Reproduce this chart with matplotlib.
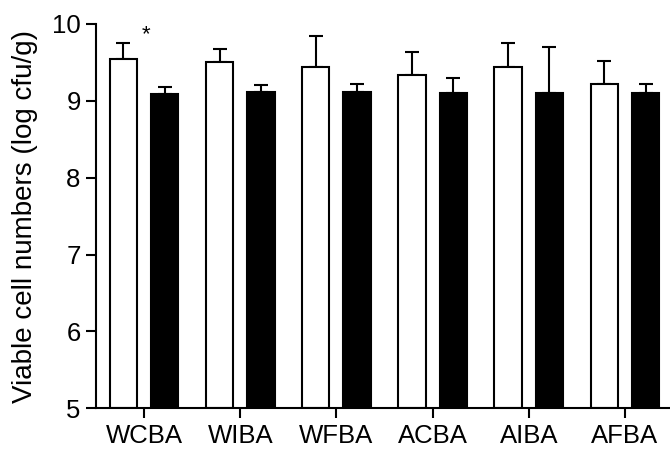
import matplotlib
matplotlib.use("Agg")
import matplotlib.pyplot as plt
import numpy as np

plt.rcParams['font.family'] = ['Liberation Sans', 'DejaVu Sans']

# Viable cell counts per medium (log cfu/g), mean and upper SD
categories = ["WCBA", "WIBA", "WFBA", "ACBA", "AIBA", "AFBA"]
white_means = [9.55, 9.50, 9.44, 9.33, 9.44, 9.22]
white_err = [0.20, 0.175, 0.40, 0.30, 0.31, 0.30]
black_means = [9.09, 9.11, 9.11, 9.10, 9.10, 9.10]
black_err = [0.09, 0.10, 0.115, 0.20, 0.60, 0.115]
y_ticks = [5, 6, 7, 8, 9, 10]

fig = plt.figure(figsize=(6.7, 4.5), dpi=100)
ax = fig.add_axes([0.1433, 0.0927, 0.8567, 0.854])

x = np.arange(len(categories))
w = 0.285
off = 0.215
lw = 1.5

ax.bar(x - off, np.array(white_means) - 5, w, bottom=5, color="white",
       edgecolor="black", linewidth=lw, zorder=2)
ax.bar(x + off, np.array(black_means) - 5, w, bottom=5, color="black",
       edgecolor="black", linewidth=lw, zorder=2)

ax.errorbar(x - off, white_means, yerr=[np.zeros(len(x)), white_err], fmt="none",
            ecolor="black", elinewidth=lw, capsize=5, capthick=lw, zorder=1)
ax.errorbar(x + off, black_means, yerr=[np.zeros(len(x)), black_err], fmt="none",
            ecolor="black", elinewidth=lw, capsize=5, capthick=lw, zorder=1)

# significance marker
ax.text(0.02, 9.86, "*", ha="center", va="center", fontsize=16)

ax.set_xlim(-0.499, 5.468)
ax.set_ylim(5, 10)
ax.set_yticks(y_ticks)
ax.set_xticks(x)
ax.set_xticklabels(categories)
ax.set_ylabel("Viable cell numbers (log cfu/g)", fontsize=20, labelpad=10)

for s in ["top", "right"]:
    ax.spines[s].set_visible(False)
for s in ["left", "bottom"]:
    ax.spines[s].set_linewidth(lw)

ax.tick_params(axis="both", labelsize=18.5, width=lw, length=7, pad=4)

fig.savefig("out.png", dpi=100)
